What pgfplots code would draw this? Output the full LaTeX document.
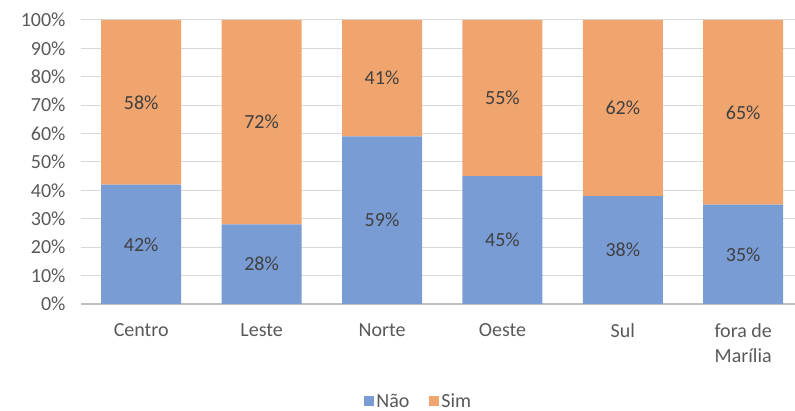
\documentclass[border=0pt]{standalone}
\usepackage{pgfplots}
\pgfplotsset{compat=1.18}
\usepackage{fontspec}
\setmainfont{Carlito}
\definecolor{nao}{HTML}{7A9CD5}
\definecolor{sim}{HTML}{F0A46E}
\definecolor{gridc}{HTML}{D9D9D9}
\definecolor{axisc}{HTML}{BFBFBF}
\definecolor{tickc}{HTML}{595959}
\definecolor{lblc}{HTML}{404040}
\begin{document}
\begin{tikzpicture}
\useasboundingbox (-81pt,-107pt) rectangle (714pt,304pt);
\begin{axis}[
  at={(0pt,0pt)}, anchor=south west,
  scale only axis, width=714pt, height=284pt,
  ybar stacked, bar width=80pt,
  xmin=-0.5, xmax=5.43, ymin=0, ymax=100,
  xtick={0,...,5},
  xticklabels={Centro,Leste,Norte,Oeste,Sul,{fora de\\Marília}},
  ytick={0,10,...,100},
  yticklabel={\pgfmathprintnumber{\tick}\%},
  /pgf/number format/assume math mode=true,
  major tick length=0pt,
  axis x line*=bottom, axis y line*=left,
  x axis line style={axisc, line width=1.5pt, -},
  y axis line style={draw=none},
  ymajorgrids, major grid style={gridc, line width=1pt},
  yticklabel style={font=\fontsize{20}{24}\selectfont, text=tickc, xshift=-12pt},
  xticklabel style={font=\fontsize{20}{25}\selectfont, text=tickc, align=center, yshift=-16pt},
  nodes near coords={\pgfmathprintnumber{\pgfplotspointmeta}\%},
  every node near coord/.append style={font=\fontsize{20}{24}\selectfont, text=lblc, anchor=center},
  legend style={at={(0.473,-0.343)}, anchor=center, draw=none, legend columns=2,
    font=\fontsize{20}{24}\selectfont, text=tickc, inner sep=1pt,
    /tikz/every even column/.append style={column sep=18pt}},
  legend image code/.code={\fill[#1] (0pt,-5pt) rectangle (10pt,5pt);},
]
\addplot[fill=nao, draw=none] coordinates {(0,42) (1,28) (2,59) (3,45) (4,38) (5,35)};
\addplot[fill=sim, draw=none] coordinates {(0,58) (1,72) (2,41) (3,55) (4,62) (5,65)};
\legend{Não,Sim}
\end{axis}
\end{tikzpicture}
\end{document}
